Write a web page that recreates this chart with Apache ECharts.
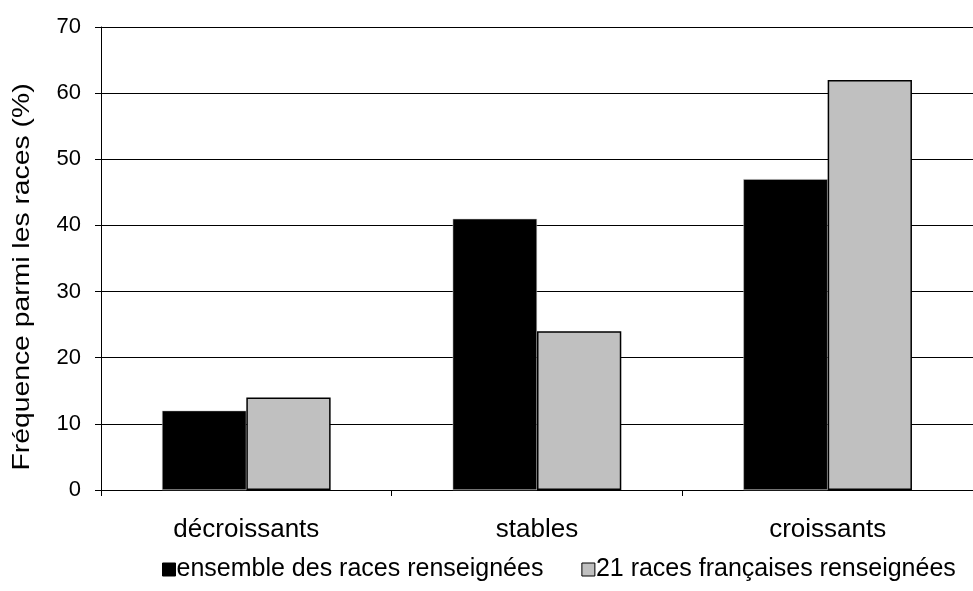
<!DOCTYPE html>
<html>
<head>
<meta charset="utf-8">
<script src="https://cdn.jsdelivr.net/npm/echarts@6/dist/echarts.min.js"></script>
<style>
  html, body { margin: 0; padding: 0; background: #fff; }
  #chart { width: 973px; height: 591px; }
</style>
</head>
<body>
<div id="chart"></div>
<script>
// données
const categories = ['décroissants', 'stables', 'croissants'];
const seriesNames = ['ensemble des races renseignées', '21 races françaises renseignées'];
const ensembleValues = [12, 41, 47];
const francaisesValues = [14, 24, 62];
const yTicks = [0, 10, 20, 30, 40, 50, 60, 70];
const yTitle = 'Fréquence parmi les races (%)';

const font = 'Liberation Sans, Arial, sans-serif';

let chart = echarts.init(document.getElementById('chart'), null, { renderer: 'canvas' });

let option = {
  animation: false,
  backgroundColor: '#fff',
  textStyle: { fontFamily: font, color: '#000' },
  grid: { left: 101, top: 27, right: 0, bottom: 101, containLabel: false, outerBoundsMode: 'none' },
  // titre de l'axe Y : texte tourné, un peu étiré comme dans l'original
  graphic: [{
    type: 'text',
    x: 22,
    y: 277,
    rotation: Math.PI / 2,
    scaleX: 1.18,
    style: {
      text: yTitle,
      fontSize: 24,
      fontFamily: font,
      fill: '#000',
      textAlign: 'center',
      textVerticalAlign: 'middle'
    }
  }],
  legend: {
    left: 157,
    top: 552,
    itemWidth: 13,
    itemHeight: 13,
    itemGap: 38,
    icon: 'rect',
    textStyle: { fontSize: 25, color: '#000', fontFamily: font, padding: [0, 0, 0, -4] },
    data: [
      { name: seriesNames[0], itemStyle: { color: '#000', borderColor: '#000', borderWidth: 1 } },
      { name: seriesNames[1], itemStyle: { color: '#c0c0c0', borderColor: '#000', borderWidth: 1 } }
    ]
  },
  xAxis: {
    type: 'category',
    data: categories,
    boundaryGap: true,
    axisLine: { show: true, lineStyle: { color: '#000', width: 1 } },
    axisTick: { show: true, length: 6, alignWithLabel: false, lineStyle: { color: '#000' } },
    axisLabel: { fontSize: 26, color: '#000', margin: 27, fontFamily: font },
    splitLine: { show: false }
  },
  yAxis: {
    type: 'value',
    min: yTicks[0],
    max: yTicks[yTicks.length - 1],
    interval: 10,
    axisLine: { show: true, lineStyle: { color: '#000', width: 1 } },
    axisTick: { show: true, length: 6, lineStyle: { color: '#000' } },
    axisLabel: { fontSize: 22, color: '#000', margin: 20, fontFamily: font },
    splitLine: { show: true, lineStyle: { color: '#000', width: 1 } }
  },
  series: [
    {
      name: seriesNames[0],
      type: 'bar',
      data: ensembleValues,
      barGap: '0%',
      barCategoryGap: '42%',
      itemStyle: { color: '#000', borderColor: '#c8c8c8', borderWidth: 0.5 }
    },
    {
      name: seriesNames[1],
      type: 'bar',
      data: francaisesValues,
      barGap: '0%',
      barCategoryGap: '42%',
      itemStyle: { color: '#c0c0c0', borderColor: '#000', borderWidth: 1.5 }
    }
  ]
};

chart.setOption(option);
</script>
</body>
</html>
